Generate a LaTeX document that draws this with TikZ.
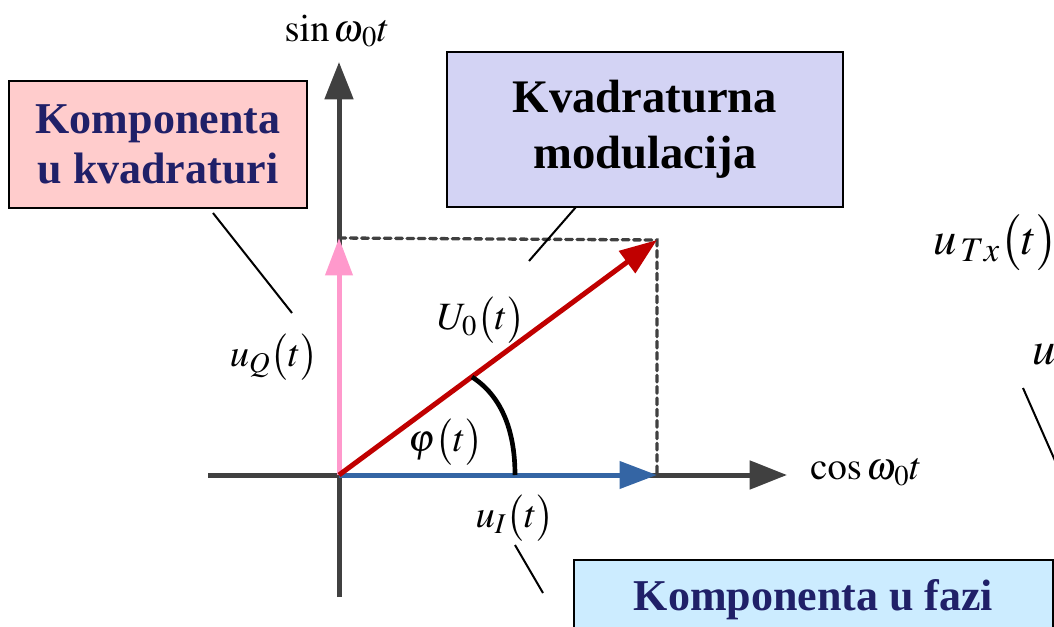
\documentclass[tikz,border=0pt]{standalone}
\usepackage{mathptmx}
\usepackage{fontspec}
\setmainfont{Liberation Serif}
\usepackage{tikz}
\usetikzlibrary{arrows.meta}
\usepackage{xcolor}

\definecolor{axisgray}{RGB}{64,64,64}
\definecolor{qpink}{RGB}{255,153,204}
\definecolor{iblue}{RGB}{52,101,164}
\definecolor{ured}{RGB}{192,0,0}
\definecolor{pinkfill}{RGB}{255,204,204}
\definecolor{lavfill}{RGB}{211,211,244}
\definecolor{bluefill}{RGB}{204,236,255}
\definecolor{navytext}{RGB}{32,32,104}

\newcommand{\lblsize}{\fontsize{29}{36}\selectfont}
\newcommand{\bigpar}[1]{\bigl(#1\bigr)}

\tikzset{
  axis/.style={draw=axisgray, line width=3.75pt, -{Triangle[length=28pt,width=21pt]}},
  vec/.style={line width=3.75pt, -{Triangle[length=28pt,width=20pt]}},
  guide/.style={draw=axisgray, line width=2.5pt, dash pattern=on 5pt off 3.5pt, line cap=round},
  callout/.style={draw=black, line width=1.5pt},
  infobox/.style={draw=black, line width=1.5pt, align=center, inner sep=0pt},
  lbl/.style={font=\lblsize, inner sep=0pt}
}

\begin{document}
\begin{tikzpicture}[x=0.75pt, y=-0.75pt]
        \useasboundingbox (0,0) rectangle (1054,627);
        \clip (0,0) rectangle (1054,627);

        % Key points
        \coordinate (O)    at (339,475);
        \coordinate (Itip) at (657,475);
        \coordinate (Qtip) at (339,238);
        \coordinate (Utip) at (657,240);
        \coordinate (xl)   at (208,475);
        \coordinate (xr)   at (787,475);
        \coordinate (yb)   at (339,597);
        \coordinate (yt)   at (339,62);

        % Axes
        \draw[axis] (xl) -- (xr);
        \draw[axis] (yb) -- (yt);

        % Projection guides
        \draw[guide] (Qtip) -- (Utip) -- (Itip);

        % Phasor components
        \draw[vec, iblue] (O) -- (Itip);
        \draw[vec, qpink] (O) -- (Qtip);
        \draw[vec, ured]  (O) -- (Utip);

        % Phase angle
        \coordinate (phis) at (515,475);
        \coordinate (phie) at (472,377);
        \draw[line width=3.5pt] (phis) .. controls (515,428) and (500,395) .. (phie);

        % Axis and vector labels
        \node[lbl] (sinlbl) at (337,31)  {$\sin\omega_{\mkern1mu 0}t$};
        \node[lbl] (coslbl) at (866,472) {$\cos\omega_{\mkern1mu 0}t$};
        \node[lbl] (ulbl)   at (481,320) {$U_0\bigpar{t}$};
        \node[lbl] (philbl) at (446,442) {$\varphi\bigpar{t}$};
        \node[lbl] (uilbl)  at (515,518) {$u_I\bigpar{t}$};
        \node[lbl] (uqlbl)  at (274,357) {$u_Q\bigpar{t}$};
        \node[lbl, font=\fontsize{35}{40}\selectfont, anchor=west]
              (txlbl)  at (933,243) {$u_{\,Tx}\bigpar{t}$};
        \node[lbl, font=\fontsize{35}{40}\selectfont, anchor=west]
              (rxlbl) at (1032,355) {$u$};

        % Boxes
        \node[infobox, fill=pinkfill, minimum width=223.5pt, minimum height=95.25pt,
              font=\fontsize{33}{38}\selectfont\bfseries, text=navytext]
              (kq) at (158,144.5) {Komponenta\\u kvadraturi};
        \node[infobox, fill=lavfill, minimum width=297pt, minimum height=116.25pt,
              font=\fontsize{35}{42}\selectfont\bfseries]
              (km) at (645,129.5) {Kvadraturna\\modulacija};
        \node[infobox, fill=bluefill, minimum width=359pt, minimum height=60pt,
              font=\fontsize{33}{38}\selectfont\bfseries, text=navytext]
              (kf) at (813.5,600) {Komponenta u fazi};

        % Callout lines
        \coordinate (kqa) at (213,213);
        \coordinate (kqb) at (292,313);
        \coordinate (kma) at (576,207);
        \coordinate (kmb) at (529,261);
        \coordinate (kfa) at (515,545);
        \coordinate (kfb) at (543,593);
        \coordinate (rxa) at (1023,388);
        \coordinate (rxb) at (1060,472);
        \draw[callout] (kqa) -- (kqb);
        \draw[callout] (kma) -- (kmb);
        \draw[callout] (kfa) -- (kfb);
        \draw[callout] (rxa) -- (rxb);
    \end{tikzpicture}
\end{document}
